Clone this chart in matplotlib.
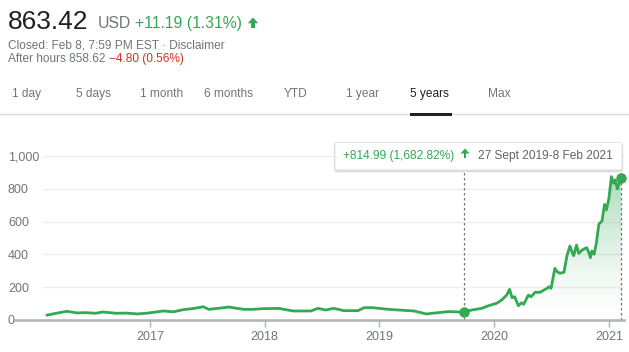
import matplotlib
matplotlib.use("Agg")
import matplotlib.pyplot as plt
import matplotlib.dates as mdates
import numpy as np
from matplotlib.patches import FancyBboxPatch, Polygon, Rectangle
from datetime import datetime

plt.rcParams['font.family'] = ['Liberation Sans', 'DejaVu Sans']

# ---------------- data ----------------
dates = ["2016-02-09", "2016-03-20", "2016-04-12", "2016-05-15", "2016-06-10", "2016-07-12",
         "2016-08-05", "2016-09-15", "2016-10-20", "2016-11-22", "2016-12-25", "2017-02-13",
         "2017-03-17", "2017-04-17", "2017-05-20", "2017-06-20", "2017-07-07", "2017-08-10",
         "2017-09-09", "2017-10-26", "2017-11-25", "2017-12-26", "2018-02-15", "2018-04-01",
         "2018-05-28", "2018-06-19", "2018-07-14", "2018-08-09", "2018-09-10", "2018-10-25",
         "2018-11-13", "2018-12-12", "2019-01-29", "2019-04-21", "2019-05-30", "2019-08-08",
         "2019-09-27", "2019-10-22", "2019-11-22", "2019-12-14", "2020-01-09", "2020-01-25",
         "2020-02-10", "2020-02-19", "2020-02-27", "2020-03-06", "2020-03-18", "2020-03-28",
         "2020-04-04", "2020-04-19", "2020-04-27", "2020-05-05", "2020-05-10", "2020-05-26",
         "2020-06-17", "2020-06-23", "2020-06-30", "2020-07-12", "2020-07-19", "2020-07-28",
         "2020-08-10", "2020-08-20", "2020-08-29", "2020-09-05", "2020-09-10", "2020-09-19",
         "2020-09-26", "2020-10-07", "2020-10-21", "2020-10-28", "2020-11-02", "2020-11-07",
         "2020-11-14", "2020-11-21", "2020-11-29", "2020-12-09", "2020-12-17", "2020-12-23",
         "2020-12-31", "2021-01-08", "2021-01-15", "2021-01-20", "2021-01-27", "2021-02-03",
         "2021-02-08"]
prices = [30, 45, 53, 43, 45, 41,
          49, 41, 42, 37, 42, 55,
          50, 63, 70, 81, 65, 72,
          79, 65, 65, 69, 71, 55,
          55, 71, 61, 71, 57, 57,
          75, 75, 65, 55, 37, 51,
          48.43, 61, 71, 87, 102, 122,
          152, 187, 136, 142, 87, 105,
          96, 152, 142, 157, 169, 169,
          193, 203, 193, 315, 295, 285,
          291, 396, 451, 413, 392, 457,
          406, 427, 441, 413, 380, 421,
          401, 468, 584, 604, 705, 671,
          742, 874, 833, 854, 799, 843,
          863.42]

range_start = "2019-09-27"
range_end = "2021-02-08"

y_ticks = [0, 200, 400, 600, 800, 1000]
y_tick_labels = ["0", "200", "400", "600", "800", "1,000"]
x_tick_years = [2017, 2018, 2019, 2020, 2021]

tab_labels = ["1 day", "5 days", "1 month", "6 months", "YTD", "1 year", "5 years", "Max"]
selected_tab = "5 years"

price_text = "863.42"
currency_text = "USD"
change_text = "+11.19 (1.31%)"
closed_text = "Closed: Feb 8, 7:59 PM EST · Disclaimer"
after_text = "After hours 858.62 "
after_change_text = "\u22124.80 (0.56%)"
tooltip_change = "+814.99 (1,682.82%)"
tooltip_range = "27 Sept 2019-8 Feb 2021"

# ---------------- style ----------------
GREEN = '#34a853'
GREY = '#70757a'
DARK = '#202124'
RED = '#d93025'

W, H = 629, 352
fig = plt.figure(figsize=(W / 100, H / 100), dpi=100)
fig.patch.set_facecolor('white')

L, R, T, B = 43, 624, 156, 320
ax = fig.add_axes([L / W, 1 - B / H, (R - L) / W, (B - T) / H])
ax.patch.set_alpha(0)

dnum = mdates.date2num([datetime.strptime(d, "%Y-%m-%d") for d in dates])
vals = np.array(prices, dtype=float)
d0 = mdates.date2num(datetime.strptime(range_start, "%Y-%m-%d"))
d1 = mdates.date2num(datetime.strptime(range_end, "%Y-%m-%d"))

# gradient fill under selected range
mask = (dnum >= d0) & (dnum <= d1)
sx = dnum[mask]
sy = vals[mask]
verts = [(sx[0], 0)] + list(zip(sx, sy)) + [(sx[-1], 0)]
poly = Polygon(verts, closed=True, facecolor='none', edgecolor='none')
ax.add_patch(poly)
grad = np.zeros((256, 1, 4))
rgb = matplotlib.colors.to_rgb(GREEN)
grad[:, 0, 0], grad[:, 0, 1], grad[:, 0, 2] = rgb
grad[:, 0, 3] = np.linspace(0, 1, 256) ** 1.4 * 0.42
im = ax.imshow(grad, extent=[sx[0], sx[-1], 0, 900], aspect='auto', origin='lower',
               zorder=1, interpolation='bilinear')
im.set_clip_path(poly)

# line
ax.plot(dnum, vals, color=GREEN, lw=2, zorder=3, solid_joinstyle='round')

# dashed range lines
for d, v in [(d0, sy[0]), (d1, sy[-1])]:
    ax.plot([d, d], [0, 915], color=GREY, lw=0.9, ls=(0, (2, 2)), zorder=2, clip_on=False)
    ax.plot([d], [v], 'o', color=GREEN, ms=6.5, zorder=4, clip_on=False)

ax.set_ylim(0, 1000)
ax.set_xlim(mdates.date2num(datetime(2016, 1, 27)), mdates.date2num(datetime(2021, 2, 17)))

# grid
for yv in y_ticks[1:]:
    ax.axhline(yv, color='#eeeeee', lw=1, zorder=0)
# baseline
ax.axhline(0, xmin=(15 - L) / (R - L), xmax=1.0, color='#b0b3b8', lw=1.8, zorder=5, clip_on=False)

for s in ax.spines.values():
    s.set_visible(False)

ax.set_yticks(y_ticks)
ax.set_yticklabels(y_tick_labels)
ax.tick_params(axis='y', length=0, pad=(L - 8) * 0.72, labelsize=9, labelcolor=GREY)
for lab in ax.get_yticklabels():
    lab.set_horizontalalignment('left')

ax.set_xticks([mdates.date2num(datetime(y, 1, 1)) for y in x_tick_years])
ax.set_xticklabels([str(y) for y in x_tick_years])
ax.tick_params(axis='x', length=5, width=1, color='#b0b3b8', labelsize=9, labelcolor=GREY, pad=3)

# ---------------- overlay (header, tabs, tooltip) ----------------
ov = fig.add_axes([0, 0, 1, 1], zorder=10)
ov.set_xlim(0, W)
ov.set_ylim(H, 0)
ov.axis('off')
ov.patch.set_alpha(0)

def up_arrow(cx, top, bottom, width):
    head_h = width * 0.55
    ov.add_patch(Polygon([(cx - width / 2, top + head_h), (cx, top), (cx + width / 2, top + head_h)],
                         closed=True, color=GREEN, lw=0))
    sw = width * 0.32
    ov.add_patch(Rectangle((cx - sw / 2, top + head_h - 0.3), sw, bottom - top - head_h + 0.3,
                           color=GREEN, lw=0))

ov.text(8, 29, price_text, fontsize=19, color=DARK, va='baseline', ha='left')
ov.text(98, 28.3, currency_text, fontsize=11.3, color=GREY, va='baseline', ha='left')
ov.text(135, 28.3, change_text, fontsize=11.3, color=GREEN, va='baseline', ha='left')
up_arrow(253, 17.5, 27.5, 10.5)

ov.text(8, 48, closed_text, fontsize=8.6, color=GREY, va='baseline', ha='left')
ov.text(8, 61.7, after_text, fontsize=8.6, color=GREY, va='baseline', ha='left')
ov.text(109, 61.7, after_change_text, fontsize=8.6, color=RED, va='baseline', ha='left')

tab_centers = [27, 94, 162, 229, 296, 363, 429, 499]
for lab, cx in zip(tab_labels, tab_centers):
    ov.text(cx, 96.7, lab, fontsize=8.6, color=DARK if lab == selected_tab else GREY,
            va='baseline', ha='center')
ov.plot([0, W], [113.5, 113.5], color='#dadce0', lw=1, zorder=1)
ov.add_patch(Rectangle((410, 113), 42, 3.2, facecolor=DARK, edgecolor='none', lw=0, zorder=3))

# tooltip
bx, by, bw, bh = 335, 142.5, 287, 27.5
for i, a in enumerate([0.05, 0.05, 0.06]):
    off = 3 - i
    ov.add_patch(FancyBboxPatch((bx - off * 0.5, by + 0.5), bw + off, bh + off * 0.8,
                                boxstyle="round,pad=0,rounding_size=3",
                                facecolor='black', edgecolor='none', alpha=a))
ov.add_patch(FancyBboxPatch((bx, by), bw, bh, boxstyle="round,pad=0,rounding_size=2",
                            facecolor='white', edgecolor='#e0e0e0', lw=0.6))
ov.text(343, 159.3, tooltip_change, fontsize=8.6, color=GREEN, va='baseline', ha='left')
up_arrow(465, 148.5, 158.5, 9)
ov.text(478, 159.3, tooltip_range, fontsize=8.6, color='#5f6368', va='baseline', ha='left')

fig.savefig("out.png", dpi=100, facecolor='white')
